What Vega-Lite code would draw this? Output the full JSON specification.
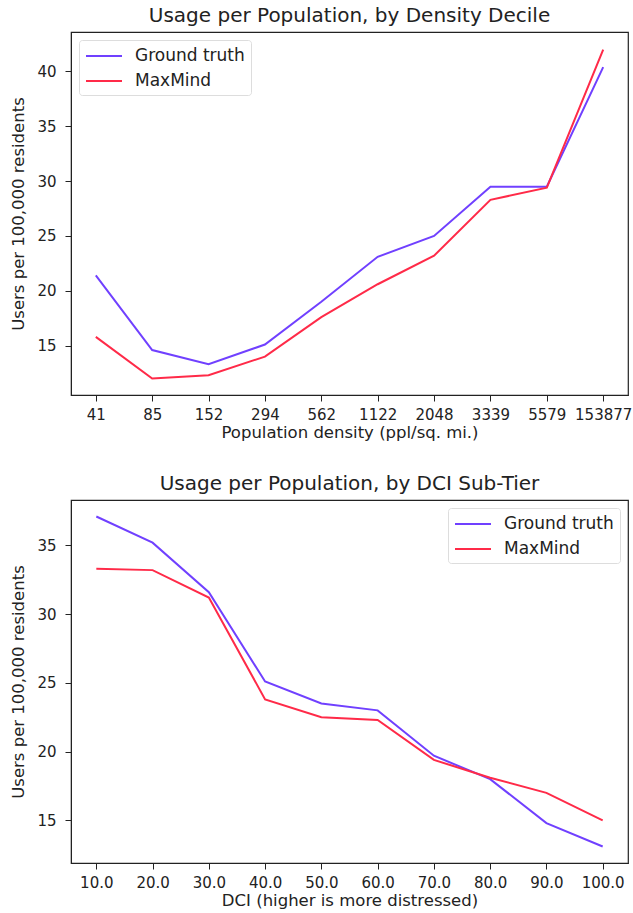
{
  "$schema": "https://vega.github.io/schema/vega-lite/v6.json",
  "background": "white",
  "padding": {"left": 10, "top": 5, "right": 2, "bottom": 0},
  "config": {
    "font": "DejaVu Sans",
    "view": {"stroke": "#222222", "strokeWidth": 1.2},
    "concat": {"spacing": 31},
    "axis": {"grid": false, "domainColor": "#222222", "tickColor": "#222222", "labelColor": "#222222", "titleColor": "#222222", "labelFontSize": 15, "titleFontSize": 16.5, "titleFontWeight": "normal", "tickSize": 6, "labelPadding": 6, "titlePadding": 2},
    "axisY": {"titlePadding": 10, "labelPadding": 9},
    "title": {"fontSize": 20, "fontWeight": "normal", "color": "#222222", "offset": 6},
    "legend": {"labelFontSize": 17, "labelColor": "#222222", "symbolType": "M-1,0H3", "symbolStrokeWidth": 2, "symbolSize": 324, "symbolFillColor": "transparent", "fillColor": "white", "strokeColor": "#dddddd", "cornerRadius": 3, "padding": 6, "rowPadding": 7, "labelOffset": 30, "title": null, "offset": 8}
  },
  "datasets": {
    "density": [
      {"density": "41", "series": "Ground truth", "users": 21.4},
      {"density": "85", "series": "Ground truth", "users": 14.6},
      {"density": "152", "series": "Ground truth", "users": 13.3},
      {"density": "294", "series": "Ground truth", "users": 15.1},
      {"density": "562", "series": "Ground truth", "users": 19.0},
      {"density": "1122", "series": "Ground truth", "users": 23.1},
      {"density": "2048", "series": "Ground truth", "users": 25.0},
      {"density": "3339", "series": "Ground truth", "users": 29.5},
      {"density": "5579", "series": "Ground truth", "users": 29.5},
      {"density": "153877", "series": "Ground truth", "users": 40.4},
      {"density": "41", "series": "MaxMind", "users": 15.8},
      {"density": "85", "series": "MaxMind", "users": 12.0},
      {"density": "152", "series": "MaxMind", "users": 12.3},
      {"density": "294", "series": "MaxMind", "users": 14.0},
      {"density": "562", "series": "MaxMind", "users": 17.6},
      {"density": "1122", "series": "MaxMind", "users": 20.6},
      {"density": "2048", "series": "MaxMind", "users": 23.2},
      {"density": "3339", "series": "MaxMind", "users": 28.3},
      {"density": "5579", "series": "MaxMind", "users": 29.4},
      {"density": "153877", "series": "MaxMind", "users": 42.0}
    ],
    "dci": [
      {"dci": 10, "series": "Ground truth", "users": 37.1},
      {"dci": 20, "series": "Ground truth", "users": 35.2},
      {"dci": 30, "series": "Ground truth", "users": 31.6},
      {"dci": 40, "series": "Ground truth", "users": 25.1},
      {"dci": 50, "series": "Ground truth", "users": 23.5},
      {"dci": 60, "series": "Ground truth", "users": 23.0},
      {"dci": 70, "series": "Ground truth", "users": 19.7},
      {"dci": 80, "series": "Ground truth", "users": 18.0},
      {"dci": 90, "series": "Ground truth", "users": 14.8},
      {"dci": 100, "series": "Ground truth", "users": 13.1},
      {"dci": 10, "series": "MaxMind", "users": 33.3},
      {"dci": 20, "series": "MaxMind", "users": 33.2},
      {"dci": 30, "series": "MaxMind", "users": 31.2},
      {"dci": 40, "series": "MaxMind", "users": 23.8},
      {"dci": 50, "series": "MaxMind", "users": 22.5},
      {"dci": 60, "series": "MaxMind", "users": 22.3},
      {"dci": 70, "series": "MaxMind", "users": 19.4},
      {"dci": 80, "series": "MaxMind", "users": 18.1},
      {"dci": 90, "series": "MaxMind", "users": 17.0},
      {"dci": 100, "series": "MaxMind", "users": 15.0}
    ]
  },
  "resolve": {"legend": {"color": "independent"}},
  "vconcat": [
    {
      "width": 557,
      "height": 363,
      "title": "Usage per Population, by Density Decile",
      "data": {"name": "density"},
      "mark": {"type": "line", "strokeWidth": 2},
      "encoding": {
        "x": {"field": "density", "type": "ordinal", "sort": null, "scale": {"type": "point", "padding": 0.44}, "axis": {"labelAngle": 0, "title": "Population density (ppl/sq. mi.)"}},
        "y": {"field": "users", "type": "quantitative", "scale": {"domain": [10.5, 43.6], "nice": false, "zero": false}, "axis": {"values": [15, 20, 25, 30, 35, 40], "title": "Users per 100,000 residents"}},
        "color": {"field": "series", "type": "nominal", "scale": {"domain": ["Ground truth", "MaxMind"], "range": ["#7040ff", "#ff2a48"]}, "legend": {"orient": "top-left"}}
      }
    },
    {
      "width": 557,
      "height": 363,
      "title": "Usage per Population, by DCI Sub-Tier",
      "data": {"name": "dci"},
      "mark": {"type": "line", "strokeWidth": 2},
      "encoding": {
        "x": {"field": "dci", "type": "quantitative", "scale": {"domain": [5.5, 104.5], "nice": false, "zero": false}, "axis": {"values": [10, 20, 30, 40, 50, 60, 70, 80, 90, 100], "format": ".1f", "title": "DCI (higher is more distressed)"}},
        "y": {"field": "users", "type": "quantitative", "scale": {"domain": [11.9, 38.3], "nice": false, "zero": false}, "axis": {"values": [15, 20, 25, 30, 35], "title": "Users per 100,000 residents"}},
        "color": {"field": "series", "type": "nominal", "scale": {"domain": ["Ground truth", "MaxMind"], "range": ["#7040ff", "#ff2a48"]}, "legend": {"orient": "top-right"}}
      }
    }
  ]
}
